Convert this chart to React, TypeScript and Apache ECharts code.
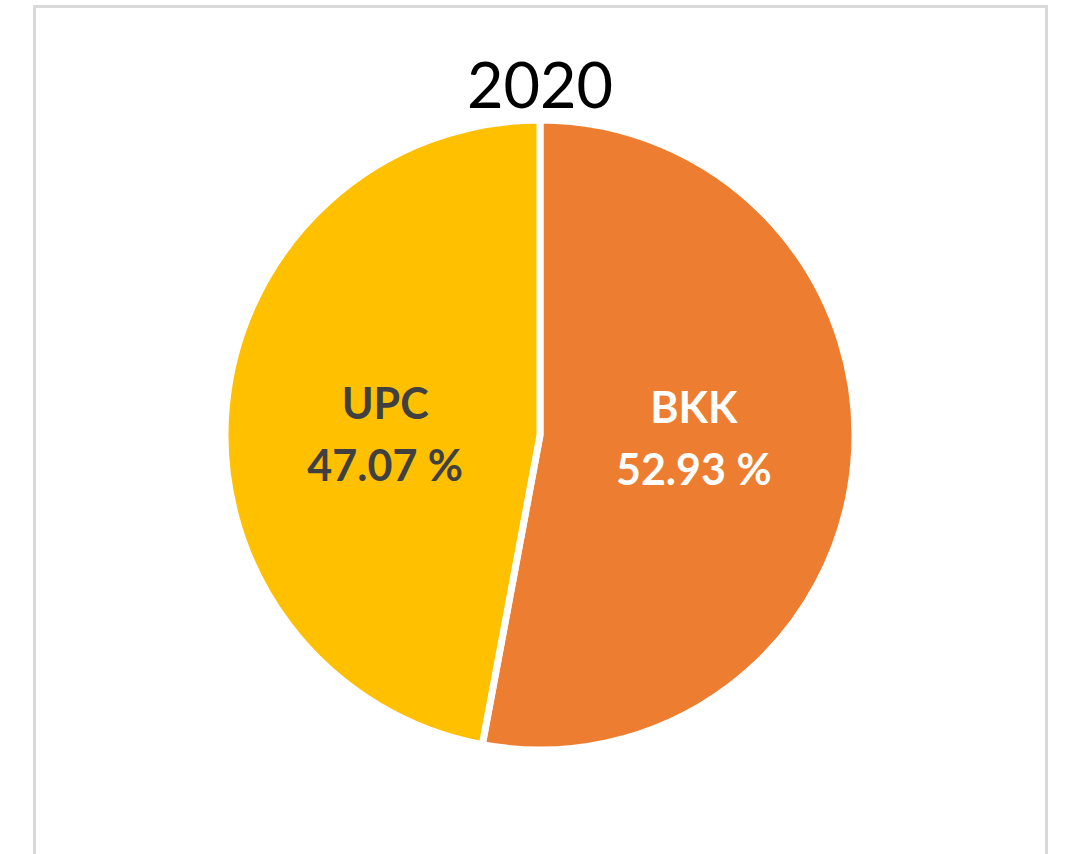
import React, { useEffect, useRef } from "react";
import * as echarts from "echarts";

const categories = ["BKK", "UPC"];
const shares = [52.93, 47.07];
const sliceColors = ["#ED7D31", "#FFC000"];
const labelColors = ["#FFFFFF", "#404040"];
const titleText = "2020";

export default function App() {
  const ref = useRef<HTMLDivElement>(null);

  useEffect(() => {
    document.body.style.margin = "0";
    const chart = echarts.init(ref.current!, null, { renderer: "svg" });
    const data = categories.map((name, i) => ({
      name,
      value: shares[i],
      itemStyle: { color: sliceColors[i] },
      label: { color: labelColors[i] },
    }));
    chart.setOption({
      animation: false,
      backgroundColor: "#ffffff",
      graphic: [
        {
          type: "rect",
          z: -10,
          shape: { x: 34.5, y: 6.5, width: 1012, height: 900 },
          style: { fill: "none", stroke: "#d9d9d9", lineWidth: 3 },
        },
        {
          type: "text",
          x: 540,
          y: 83,
          style: {
            text: titleText,
            font: "normal 63px Lato",
            fill: "#000000",
            textAlign: "center",
            textVerticalAlign: "middle",
          },
        },
      ],
      series: [
        {
          type: "pie",
          center: [540, 435],
          radius: 315,
          startAngle: 90,
          clockwise: true,
          itemStyle: { borderColor: "#ffffff", borderWidth: 7 },
          label: {
            show: true,
            position: "inside",
            fontFamily: "Lato",
            fontWeight: "bold",
            fontSize: 43,
            lineHeight: 62,
            formatter: (p: any) => `${p.name}\n${Number(p.value).toFixed(2)} %`,
          },
          labelLayout: (p: any) =>
            p.dataIndex === 0 ? { dx: -6, dy: -12 } : { dx: 5, dy: 13 },
          labelLine: { show: false },
          emphasis: { disabled: true },
          data,
        },
      ],
    });
    return () => chart.dispose();
  }, []);

  return <div ref={ref} style={{ width: 1065, height: 854 }} />;
}
